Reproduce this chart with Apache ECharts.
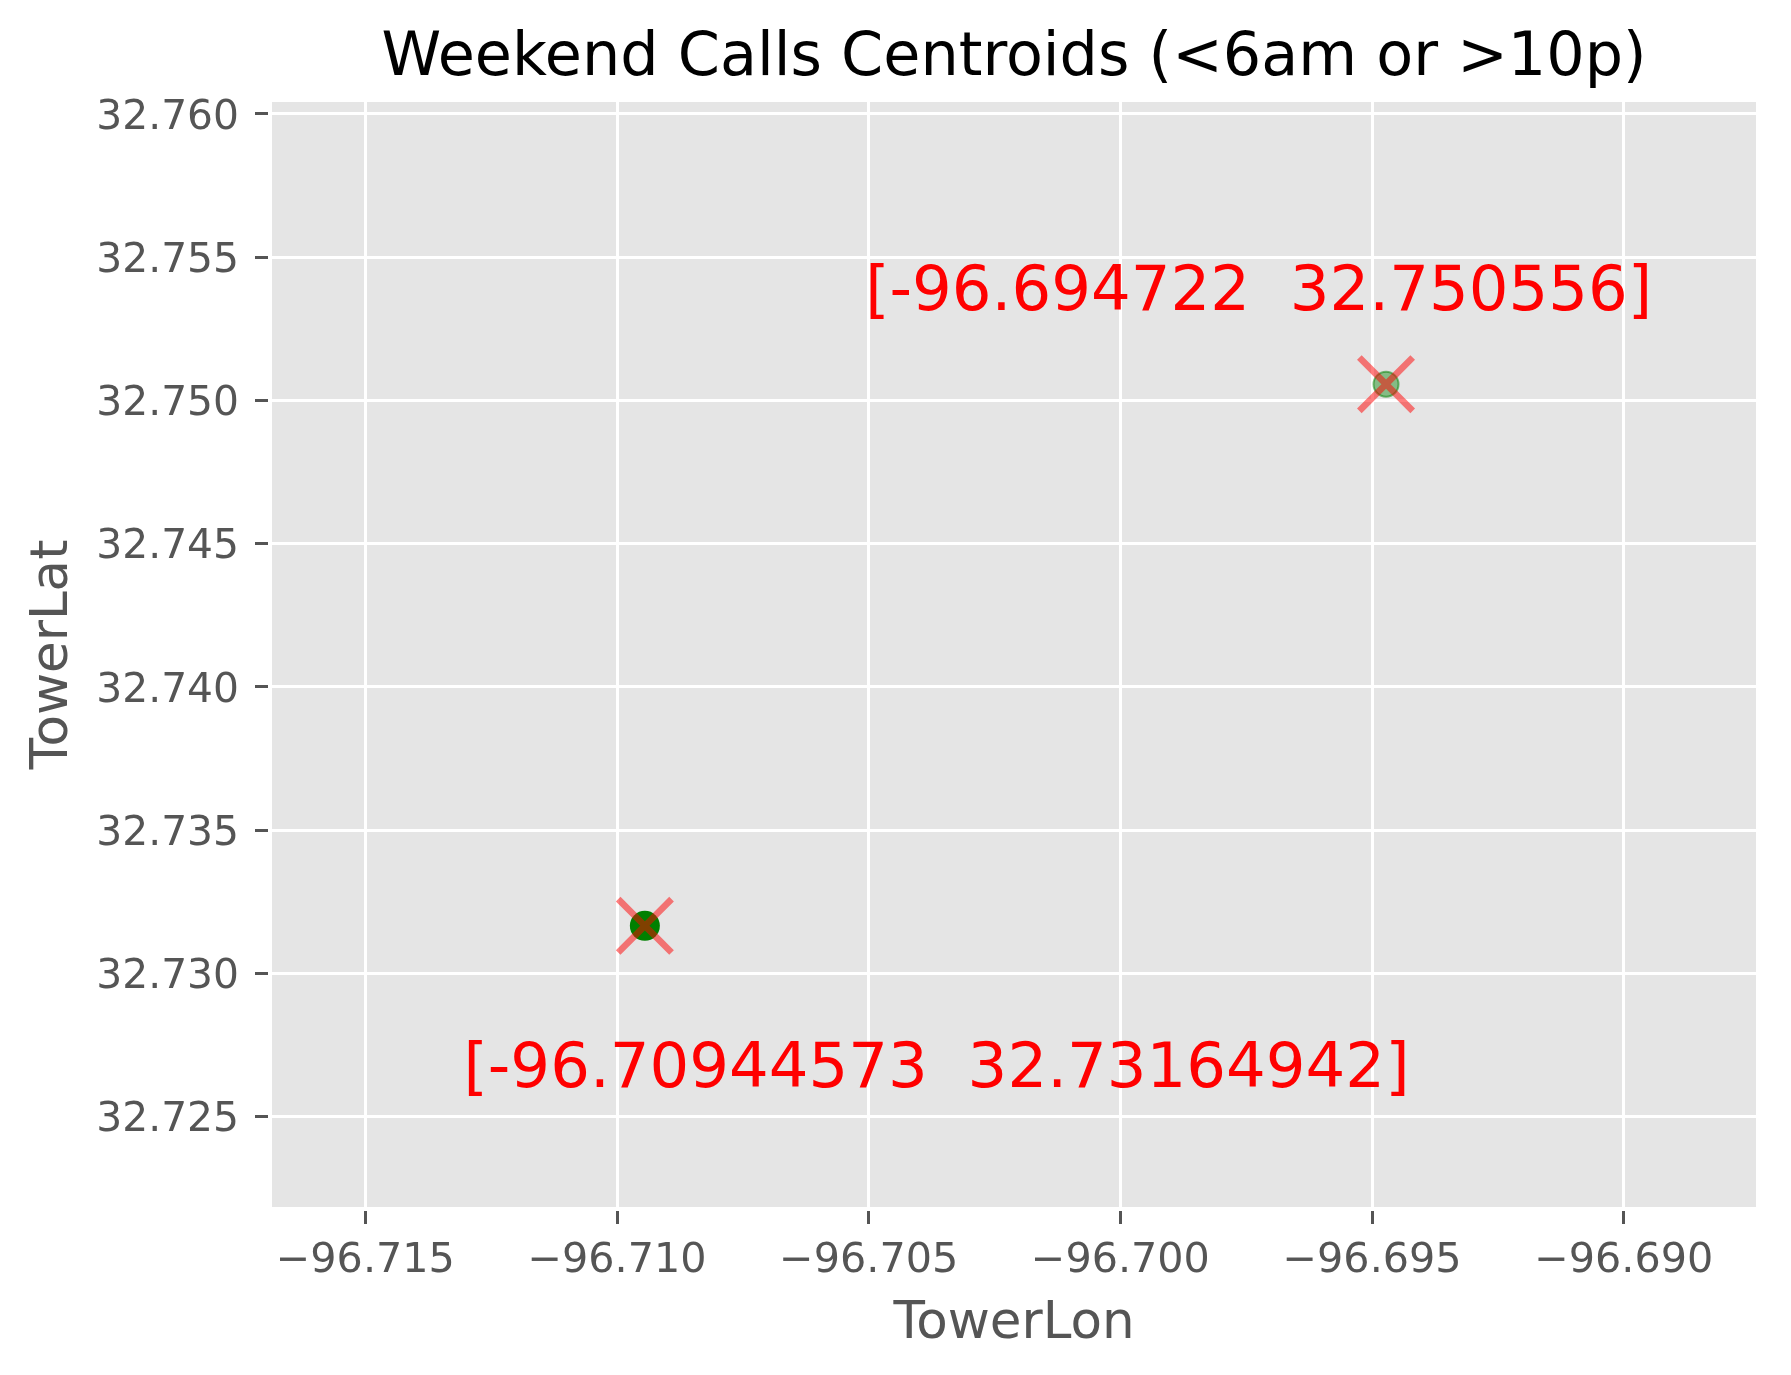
<!DOCTYPE html>
<html>
<head>
<meta charset="utf-8">
<style>html,body{margin:0;padding:0;background:#fff}#c{width:1791px;height:1375px}</style>
<script src="https://cdn.jsdelivr.net/npm/echarts@6/dist/echarts.min.js"></script>
</head>
<body>
<div id="c"></div>
<script>
const titleText = 'Weekend Calls Centroids (<6am or >10p)';
const xName = 'TowerLon';
const yName = 'TowerLat';
const xLimits = [-96.716853, -96.687372];
const yLimits = [32.721833, 32.760408];
const xTicks = [-96.715, -96.710, -96.705, -96.700, -96.695, -96.690];
const yTicks = [32.725, 32.730, 32.735, 32.740, 32.745, 32.750, 32.755, 32.760];
const lightPoints = [[-96.694722, 32.750556]];
const darkPoints = [[-96.70944573, 32.73164942]];
const centroids = [[-96.694722, 32.750556], [-96.70944573, 32.73164942]];
const annotationAnchors = [[-96.70507, 32.75263], [-96.71305, 32.72548]];
const annotationTexts = ['[-96.694722  32.750556]', '[-96.70944573  32.73164942]'];
const FONT = '"DejaVu Sans"';
const crossPath = 'path://M8 0L50 42L92 0L100 8L58 50L100 92L92 100L50 58L8 100L0 92L42 50L0 8Z';

const axisCommon = {
  type: 'value', offset: 4,
  axisLine: { show: false },
  axisTick: { show: true, length: 13, lineStyle: { color: '#555555', width: 3 } },
  splitLine: { show: true, lineStyle: { color: '#ffffff', width: 3 } },
  minorSplitLine: { show: false },
  nameLocation: 'middle',
  nameTextStyle: { color: '#555555', fontFamily: FONT, fontSize: 51.5 }
};
const chart = echarts.init(document.getElementById('c'), null, { renderer: 'canvas', width: 1791, height: 1375 });
chart.setOption({
  animation: false,
  backgroundColor: '#ffffff',
  title: {
    text: titleText, left: 1009, top: 24, textAlign: 'center',
    textStyle: { color: '#000000', fontFamily: FONT, fontSize: 60.4, fontWeight: 'normal' }
  },
  grid: { left: 272, top: 102, width: 1484, height: 1105, show: true, backgroundColor: '#E5E5E5', borderWidth: 0 },
  xAxis: Object.assign({}, axisCommon, {
    min: xLimits[0], max: xLimits[1], name: xName, nameGap: 88,
    axisTick: Object.assign({}, axisCommon.axisTick, { customValues: xTicks }),
    axisLabel: { customValues: xTicks, color: '#555555', fontFamily: FONT, fontSize: 41.3, margin: 30, hideOverlap: false, showMinLabel: true, showMaxLabel: true,
      formatter: v => v.toFixed(3).replace('-', '\u2212') }
  }),
  yAxis: Object.assign({}, axisCommon, {
    min: yLimits[0], max: yLimits[1], name: yName, nameGap: 188.5,
    axisTick: Object.assign({}, axisCommon.axisTick, { customValues: yTicks }),
    axisLabel: { customValues: yTicks, color: '#555555', fontFamily: FONT, fontSize: 40.8, margin: 29, verticalAlign: 'top', lineHeight: 9, hideOverlap: false, showMinLabel: true, showMaxLabel: true,
      formatter: v => v.toFixed(3) }
  }),
  series: [
    { type: 'scatter', data: lightPoints, symbol: 'circle', symbolSize: 25, silent: true,
      itemStyle: { color: 'rgba(0,128,0,0.42)', borderColor: 'rgba(0,128,0,0.5)', borderWidth: 2, opacity: 1 } },
    { type: 'scatter', data: darkPoints, symbol: 'circle', symbolSize: 30, silent: true,
      itemStyle: { color: '#008000', opacity: 1 } },
    { type: 'scatter', data: centroids, symbol: crossPath, symbolSize: 58, silent: true,
      itemStyle: { color: '#ff0000', opacity: 0.5 } },
    { type: 'scatter', symbolSize: 0, silent: true,
      data: annotationAnchors.map((p, i) => ({ value: p, text: annotationTexts[i] })),
      itemStyle: { opacity: 1 },
      label: { show: true, position: [0, 0], align: 'left', verticalAlign: 'bottom', color: '#ff0000', fontFamily: FONT, fontSize: 62.5,
        formatter: p => p.data.text } }
  ]
});
</script>
</body>
</html>
